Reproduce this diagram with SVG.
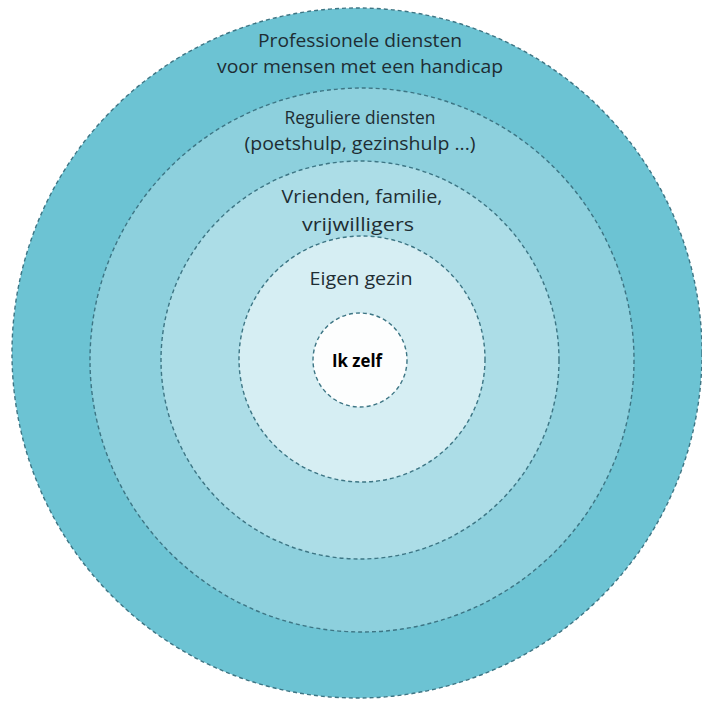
<svg xmlns="http://www.w3.org/2000/svg" width="702" height="703" viewBox="0 0 702 703">
<style>
.ring{stroke:#3d7584;stroke-width:1.4;stroke-dasharray:4 3}
.t{font-family:"Open Sans","Noto Sans","Liberation Sans",sans-serif;font-size:19px;fill:#1e2d33;text-anchor:middle}
.b{font-family:"Open Sans","Noto Sans","Liberation Sans",sans-serif;font-size:18px;font-weight:bold;fill:#000;text-anchor:middle}
</style>
<rect width="702" height="703" fill="#ffffff"/>
<g id="ring1"><circle class="ring" cx="357" cy="353" r="345" fill="#6cc3d3"/></g>
<g id="ring2"><circle class="ring" cx="362" cy="360" r="272" fill="#8dd0dd"/></g>
<g id="ring3"><circle class="ring" cx="360" cy="360" r="199" fill="#acdde7"/></g>
<g id="ring4"><circle class="ring" cx="362" cy="359" r="123" fill="#d6eef3"/></g>
<g id="ring5"><circle class="ring" cx="360" cy="360" r="47" fill="#fdfefe"/></g>
<g id="labels">
<text class="t" x="360" y="47" textLength="204" lengthAdjust="spacingAndGlyphs">Professionele diensten</text>
<text class="t" x="360" y="73" textLength="286" lengthAdjust="spacingAndGlyphs">voor mensen met een handicap</text>
<text class="t" x="360" y="124" textLength="151" lengthAdjust="spacingAndGlyphs">Reguliere diensten</text>
<text class="t" x="360" y="150" textLength="231" lengthAdjust="spacingAndGlyphs">(poetshulp, gezinshulp ...)</text>
<text class="t" x="362" y="203" textLength="161" lengthAdjust="spacingAndGlyphs">Vrienden, familie,</text>
<text class="t" x="358" y="231" textLength="112" lengthAdjust="spacingAndGlyphs">vrijwilligers</text>
<text class="t" x="361" y="285" textLength="103" lengthAdjust="spacingAndGlyphs">Eigen gezin</text>
<text class="b" x="357" y="367" textLength="50" lengthAdjust="spacingAndGlyphs">Ik zelf</text>
</g>
</svg>
